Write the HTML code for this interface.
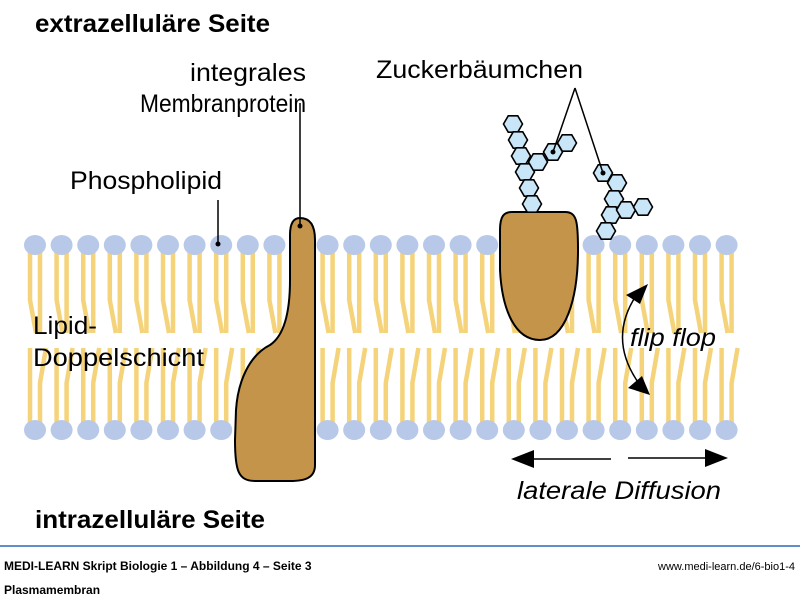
<!DOCTYPE html><html><head><meta charset="utf-8"><style>body{margin:0;background:#fff}svg{display:block}</style></head><body>
<svg width="800" height="600" viewBox="0 0 800 600" xmlns="http://www.w3.org/2000/svg" xmlns:xlink="http://www.w3.org/1999/xlink" font-family="Liberation Sans, sans-serif">
<defs>
<g id="L">
<g stroke="#f5d37a" stroke-width="4.5" fill="none">
<path d="M-5 252 V300 L1 333"/><path d="M5 252 V333"/>
<path d="M-5 423 V348"/><path d="M5 423 V383 L11 348"/>
</g>
<ellipse cx="0" cy="245" rx="11" ry="10" fill="#b8c8e8"/><ellipse cx="0" cy="430" rx="11" ry="10" fill="#b8c8e8"/>
</g>
<path id="H" d="M9.5 0 L4.75 8.2 L-4.75 8.2 L-9.5 0 L-4.75 -8.2 L4.75 -8.2 Z" fill="#c8e6f8" stroke="#000" stroke-width="1.6"/>
</defs>
<use xlink:href="#L" x="35"/><use xlink:href="#L" x="61.6"/><use xlink:href="#L" x="88.2"/><use xlink:href="#L" x="114.8"/><use xlink:href="#L" x="141.4"/><use xlink:href="#L" x="168"/><use xlink:href="#L" x="194.6"/><use xlink:href="#L" x="221.2"/><use xlink:href="#L" x="247.8"/><use xlink:href="#L" x="274.4"/><use xlink:href="#L" x="327.6"/><use xlink:href="#L" x="354.2"/><use xlink:href="#L" x="380.8"/><use xlink:href="#L" x="407.4"/><use xlink:href="#L" x="434"/><use xlink:href="#L" x="460.6"/><use xlink:href="#L" x="487.2"/><use xlink:href="#L" x="513.8"/><use xlink:href="#L" x="540.4"/><use xlink:href="#L" x="567"/><use xlink:href="#L" x="593.6"/><use xlink:href="#L" x="620.2"/><use xlink:href="#L" x="646.8"/><use xlink:href="#L" x="673.4"/><use xlink:href="#L" x="700"/><use xlink:href="#L" x="726.6"/>
<path d="M300 218 C310 218 315 225 315 240 L315 465 C315 478 305 481 290 481 L255 481 C238 481 235 470 235 440 L236 410 C238 380 250 355 270 345 C285 335 290 310 290 280 L290 235 C290 223 294 218 300 218 Z" fill="#c4944a" stroke="#000" stroke-width="2"/>
<path d="M512 212 L565 212 C577 212 578 222 578 250 C578 300 565 340 540 340 C515 340 502 310 500 270 L500 230 C500 216 504 212 512 212 Z" fill="#c4944a" stroke="#000" stroke-width="2"/>
<use xlink:href="#H" x="513" y="124"/><use xlink:href="#H" x="518" y="140"/><use xlink:href="#H" x="521" y="156"/><use xlink:href="#H" x="525" y="172"/><use xlink:href="#H" x="529" y="188"/><use xlink:href="#H" x="532" y="204"/><use xlink:href="#H" x="538" y="162"/><use xlink:href="#H" x="553" y="152"/><use xlink:href="#H" x="567" y="143"/><use xlink:href="#H" x="603" y="173"/><use xlink:href="#H" x="617" y="183"/><use xlink:href="#H" x="614" y="199"/><use xlink:href="#H" x="611" y="215"/><use xlink:href="#H" x="606" y="231"/><use xlink:href="#H" x="626" y="210"/><use xlink:href="#H" x="643" y="207"/>
<g stroke="#000" stroke-width="1.5" fill="none">
<path d="M300 103 V226"/><path d="M218 200 V243"/>
<path d="M575 88 L553 152 M575 88 L603 173"/>
</g>
<circle cx="300" cy="226" r="2.5"/><circle cx="218" cy="244" r="2.5"/><circle cx="553" cy="152" r="2.5"/><circle cx="603" cy="173" r="2.5"/>
<path d="M640 290 Q605 337 640 385" stroke="#000" stroke-width="1.5" fill="none"/>
<polygon points="648,284 626,295 640,304"/><polygon points="650,395 628,388 642,376"/>
<line x1="530" y1="459" x2="611" y2="459" stroke="#000" stroke-width="1.5"/><polygon points="511,459 534,450 534,468"/>
<line x1="628" y1="458" x2="710" y2="458" stroke="#000" stroke-width="1.5"/><polygon points="728,458 705,449 705,467"/>
<g font-size="25" fill="#000">
<text x="35" y="32" font-weight="bold" textLength="235" lengthAdjust="spacingAndGlyphs">extrazelluläre Seite</text>
<text x="35" y="528" font-weight="bold" textLength="230" lengthAdjust="spacingAndGlyphs">intrazelluläre Seite</text>
<text x="190" y="81" textLength="116" lengthAdjust="spacingAndGlyphs">integrales</text>
<text x="140" y="112" textLength="166" lengthAdjust="spacingAndGlyphs">Membranprotein</text>
<text x="376" y="78" textLength="207" lengthAdjust="spacingAndGlyphs">Zuckerbäumchen</text>
<text x="70" y="189" textLength="152" lengthAdjust="spacingAndGlyphs">Phospholipid</text>
<text x="33" y="334" textLength="64" lengthAdjust="spacingAndGlyphs">Lipid-</text>
<text x="33" y="366" textLength="171" lengthAdjust="spacingAndGlyphs">Doppelschicht</text>
<text x="630" y="346" font-style="italic" textLength="86" lengthAdjust="spacingAndGlyphs">flip flop</text>
<text x="517" y="499" font-style="italic" textLength="204" lengthAdjust="spacingAndGlyphs">laterale Diffusion</text>
</g>
<line x1="0" y1="546" x2="800" y2="546" stroke="#2a6ab3" stroke-width="1.5"/>
<text x="4" y="570" font-size="12" font-weight="bold">MEDI-LEARN Skript Biologie 1 – Abbildung 4 – Seite 3</text>
<text x="4" y="594" font-size="12" font-weight="bold">Plasmamembran</text>
<text x="795" y="570" font-size="11" text-anchor="end">www.medi-learn.de/6-bio1-4</text>
</svg></body></html>
